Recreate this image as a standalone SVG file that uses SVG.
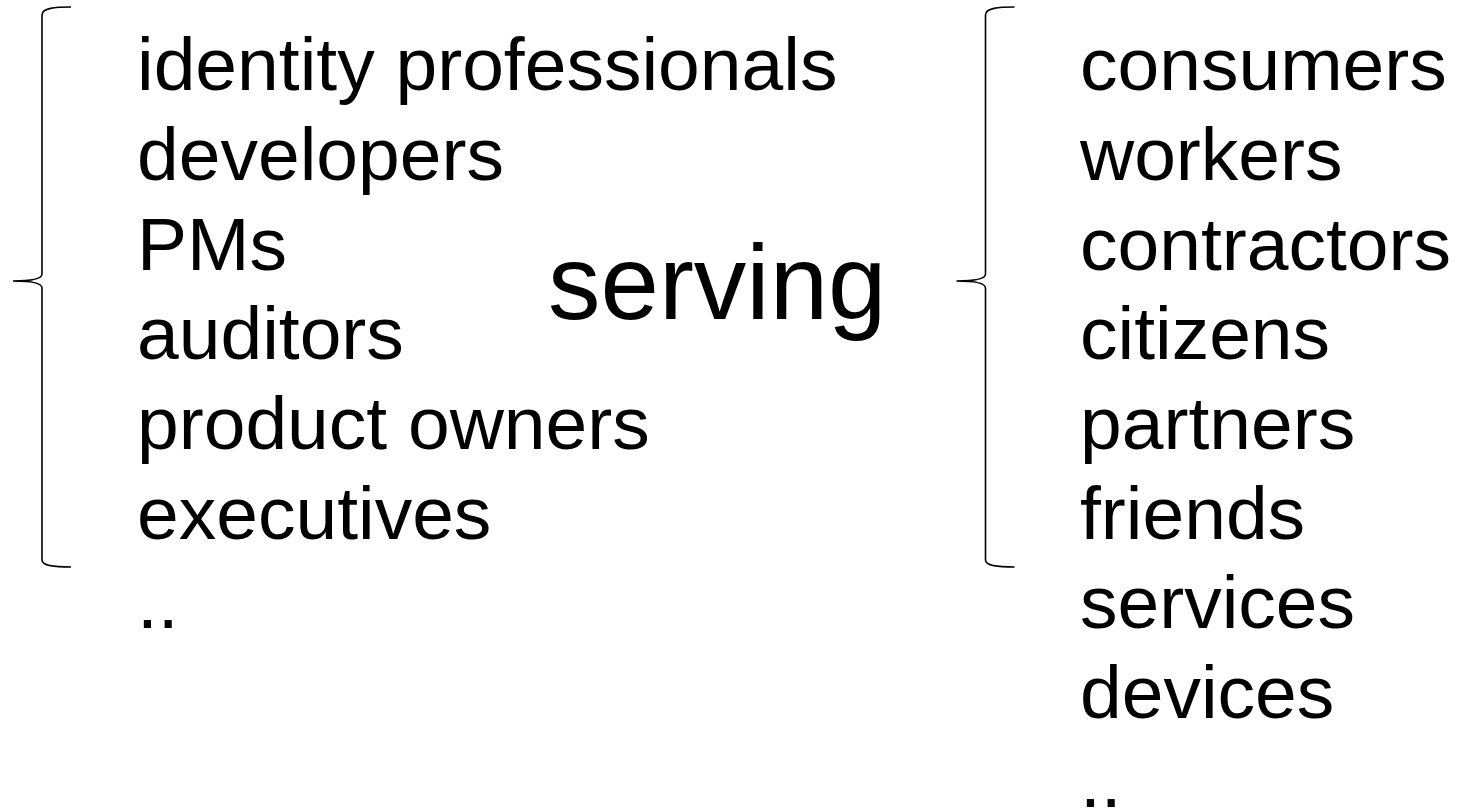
<svg xmlns="http://www.w3.org/2000/svg" width="1479" height="811" viewBox="0 0 1479 811">
<style>
.t{font-family:"Liberation Sans",Arial,sans-serif;font-size:75px;fill:#000}
.big{font-family:"Liberation Sans",Arial,sans-serif;font-size:105px;fill:#000}
.brace{fill:none;stroke:#000;stroke-width:1.6}
</style>
<rect width="1479" height="811" fill="#fff"/>
<defs>
<path id="br" d="M71,7 C55,7 42,8 42,15 L42,274 C42,279 30,281 13,281 C30,281 42,283 42,288 L42,560 C42,566 55,567 71,567"/>
</defs>
<g id="connectors">
<use href="#br" class="brace" id="brace-left"/>
<use href="#br" class="brace" id="brace-right" transform="translate(943.5,0)"/>
</g>
<g id="left-list">
<text class="t" x="137" y="90">identity professionals</text>
<text class="t" x="137" y="180">developers</text>
<text class="t" x="137" y="270">PMs</text>
<text class="t" x="137" y="359">auditors</text>
<text class="t" x="137" y="449">product owners</text>
<text class="t" x="137" y="539">executives</text>
<text class="t" x="137" y="628">..</text>
</g>
<g id="serving">
<text class="big" x="548" y="319">serving</text>
</g>
<g id="right-list">
<text class="t" x="1080" y="90">consumers</text>
<text class="t" x="1080" y="180">workers</text>
<text class="t" x="1080" y="270">contractors</text>
<text class="t" x="1080" y="359">citizens</text>
<text class="t" x="1080" y="449">partners</text>
<text class="t" x="1080" y="539">friends</text>
<text class="t" x="1080" y="628">services</text>
<text class="t" x="1080" y="718">devices</text>
<text class="t" x="1080" y="807">..</text>
</g>
</svg>
